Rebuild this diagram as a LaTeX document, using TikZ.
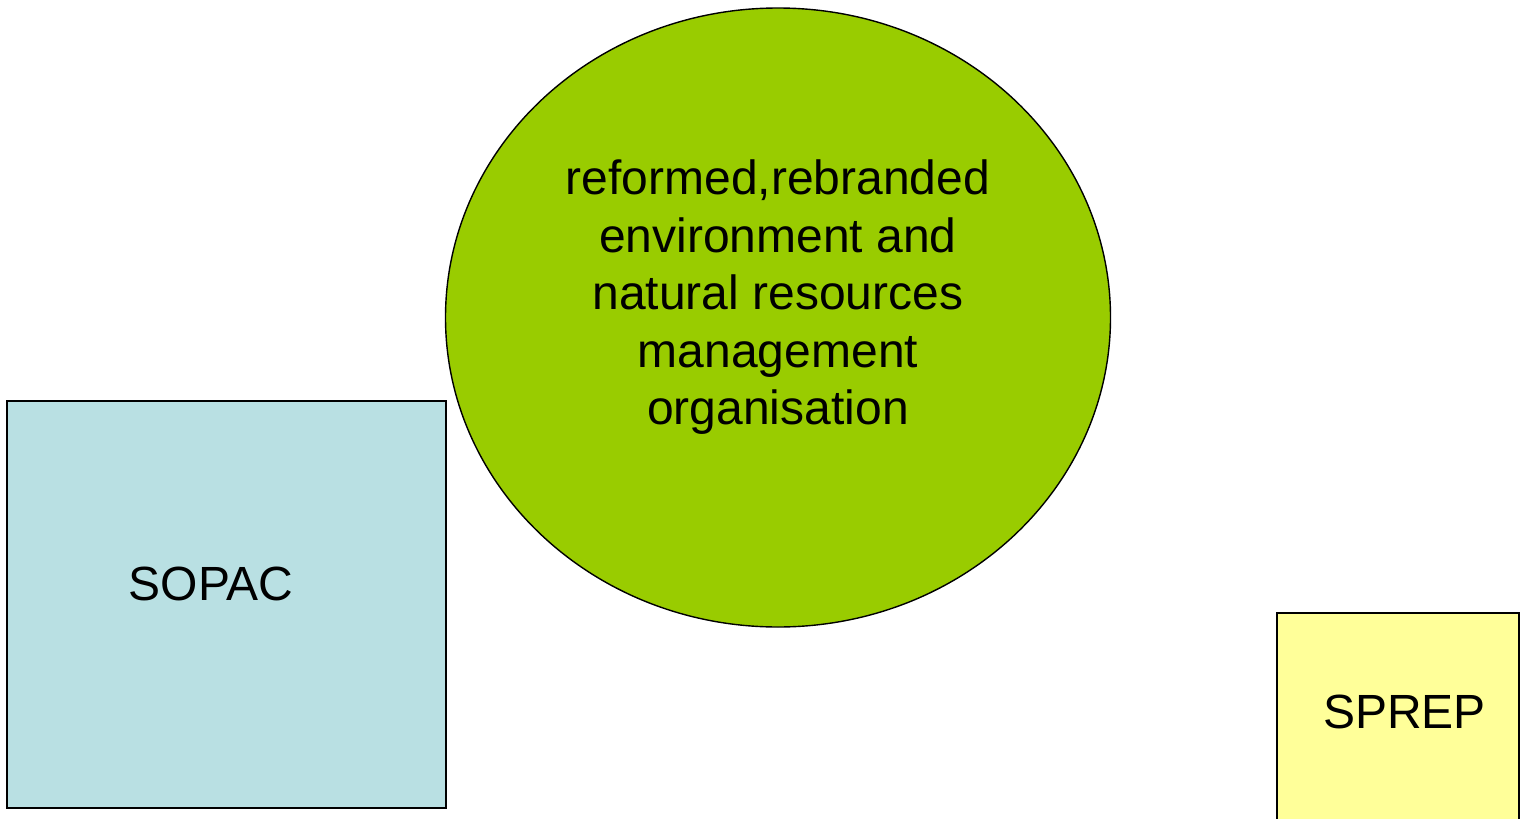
\documentclass[tikz,border=0pt]{standalone}
\usepackage{fontspec}
\setmainfont{Liberation Sans}
\usetikzlibrary{shapes.geometric}
\definecolor{orggreen}{HTML}{99CC00}
\definecolor{sopacblue}{HTML}{B9E0E3}
\definecolor{sprepyellow}{HTML}{FFFF99}
\begin{document}
\begin{tikzpicture}[x=1pt,y=-1pt,
  outline/.style={draw=black,line width=1.4pt},
  bigtext/.style={font=\fontsize{48}{57.5}\selectfont,inner sep=0pt}]
\useasboundingbox (0,0) rectangle (1523,819);
\node[outline,fill=orggreen,ellipse,minimum width=665pt,minimum height=619pt,inner sep=0pt] (org) at (778,317.5) {};
\node[bigtext,align=center,anchor=center] (orgtext) at (778,297.5) {reformed,rebranded\\environment and\\natural resources\\management\\organisation};
\node[outline,fill=sopacblue,rectangle,minimum width=439pt,minimum height=407pt,inner sep=0pt] (sopac) at (226.5,604.5) {};
\node[bigtext,anchor=base] (sopactext) at (211,600) {SOPAC};
\node[outline,fill=sprepyellow,rectangle,minimum width=242pt,minimum height=230pt,inner sep=0pt] (sprep) at (1398,728) {};
\node[bigtext,anchor=base] (spreptext) at (1404.5,728) {SPREP};
\end{tikzpicture}
\end{document}
